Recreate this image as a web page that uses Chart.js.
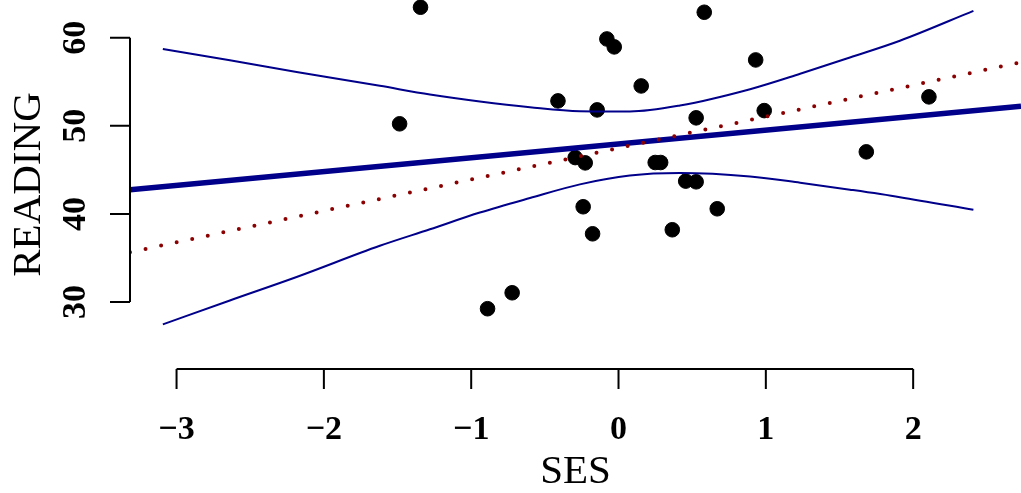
<!DOCTYPE html>
<html>
<head>
<meta charset="utf-8">
<script src="https://cdn.jsdelivr.net/npm/chart.js@4"></script>
<style>
  html, body { margin: 0; padding: 0; background: #fff; }
  canvas { display: block; }
</style>
</head>
<body>
<canvas id="grafico" width="1021" height="493"></canvas>
<script>
// ----------- DADOS -----------
const ses = [-1.344, 0.582, -0.079, -0.029, 0.931, 0.154, -0.411, -0.145, -1.486, 0.527,
  0.989, -0.294, -0.226, 0.249, 0.286, 0.456, 0.527, -0.240, 0.670, -0.176,
  0.365, -0.722, -0.889, 2.107, 1.682];
const reading = [63.45, 62.88, 59.85, 58.95, 57.47, 54.52, 52.82, 51.80, 50.22, 50.90,
  51.72, 46.39, 45.79, 45.83, 45.83, 43.72, 43.64, 40.81, 40.58, 37.74,
  38.20, 31.05, 29.24, 53.28, 47.04];

const retaX = [-3.316, 2.732];
const retaAzul = [42.73, 52.21];
const retaVermelha = [35.65, 57.21];

// faixas de confiança
const faixaX = [-3.093, -2.638, -2.185, -1.620, -1.280, -0.941, -0.601, -0.262, 0.077, 0.417,
  0.893, 1.233, 1.571, 1.910, 2.409];
const faixaSup = [58.72, 57.43, 56.11, 54.53, 53.55, 52.75, 52.10, 51.65, 51.62, 52.30,
  54.15, 55.90, 57.75, 59.65, 63.04];
const faixaInf = [27.46, 30.18, 32.84, 36.38, 38.25, 40.15, 41.80, 43.35, 44.35, 44.63,
  44.24, 43.54, 42.75, 41.90, 40.46];

const xTicks = [-3, -2, -1, 0, 1, 2];
const yTicks = [30, 40, 50, 60];

const azul = "#00008B";
const vermelho = "#8B0000";

const pares = (xs, ys) => xs.map((x, i) => ({ x: x, y: ys[i] }));
const rotulo = v => (v < 0 ? "\u2212" + Math.abs(v) : String(v));

// eixos no estilo R
const eixosR = {
  id: "eixosR",
  afterDraw(chart) {
    const ctx = chart.ctx;
    const sx = chart.scales.x, sy = chart.scales.y;
    const area = chart.chartArea;
    ctx.save();
    ctx.strokeStyle = "#000";
    ctx.fillStyle = "#000";
    ctx.lineWidth = 2;

    // eixo x
    const base = area.bottom;
    ctx.beginPath();
    ctx.moveTo(sx.getPixelForValue(xTicks[0]), base);
    ctx.lineTo(sx.getPixelForValue(xTicks[xTicks.length - 1]), base);
    xTicks.forEach(t => {
      const px = sx.getPixelForValue(t);
      ctx.moveTo(px, base);
      ctx.lineTo(px, base + 20);
    });
    ctx.stroke();
    ctx.font = "bold 34px 'Liberation Serif', 'DejaVu Serif', serif";
    ctx.textAlign = "center";
    ctx.textBaseline = "alphabetic";
    xTicks.forEach(t => ctx.fillText(rotulo(t), sx.getPixelForValue(t), base + 70));

    // eixo y
    const esq = area.left;
    ctx.beginPath();
    ctx.moveTo(esq, sy.getPixelForValue(yTicks[0]));
    ctx.lineTo(esq, sy.getPixelForValue(yTicks[yTicks.length - 1]));
    yTicks.forEach(t => {
      const py = sy.getPixelForValue(t);
      ctx.moveTo(esq, py);
      ctx.lineTo(esq - 20, py);
    });
    ctx.stroke();
    yTicks.forEach(t => {
      ctx.save();
      ctx.translate(esq - 45, sy.getPixelForValue(t));
      ctx.rotate(-Math.PI / 2);
      ctx.fillText(rotulo(t), 0, 0);
      ctx.restore();
    });

    // títulos
    ctx.font = "41px 'Liberation Serif', 'DejaVu Serif', serif";
    ctx.fillText("SES", (area.left + area.right) / 2, 483);
    ctx.save();
    ctx.translate(40, (area.top + area.bottom) / 2);
    ctx.rotate(-Math.PI / 2);
    ctx.fillText("READING", 0, 0);
    ctx.restore();

    ctx.restore();
  }
};

document.addEventListener("DOMContentLoaded", () => {
  new Chart(document.getElementById("grafico"), {
    type: "scatter",
    data: {
      datasets: [
        {
          label: "pontos",
          data: pares(ses, reading),
          backgroundColor: "#000",
          borderColor: "#000",
          pointRadius: 7.3,
          order: 10
        },
        {
          label: "faixa superior",
          data: pares(faixaX, faixaSup),
          showLine: true,
          borderColor: azul,
          borderWidth: 2,
          pointRadius: 0,
          cubicInterpolationMode: "monotone",
          order: 3
        },
        {
          label: "faixa inferior",
          data: pares(faixaX, faixaInf),
          showLine: true,
          borderColor: azul,
          borderWidth: 2,
          pointRadius: 0,
          cubicInterpolationMode: "monotone",
          order: 3
        },
        {
          label: "reta azul",
          data: pares(retaX, retaAzul),
          showLine: true,
          borderColor: azul,
          borderWidth: 5.5,
          pointRadius: 0,
          order: 2
        },
        {
          label: "reta vermelha",
          data: pares(retaX, retaVermelha),
          showLine: true,
          borderColor: vermelho,
          borderWidth: 4,
          borderDash: [0, 15.9],
          borderCapStyle: "round",
          pointRadius: 0,
          order: 1
        }
      ]
    },
    options: {
      responsive: false,
      devicePixelRatio: 1,
      animation: false,
      layout: {
        autoPadding: false,
        padding: { left: 130, right: 0, top: 0, bottom: 124 }
      },
      scales: {
        x: { type: "linear", min: -3.316, max: 2.732, display: false },
        y: { type: "linear", min: 22.4, max: 64.27, display: false }
      },
      plugins: {
        legend: { display: false },
        tooltip: { enabled: false }
      }
    },
    plugins: [eixosR]
  });
});
</script>
</body>
</html>
